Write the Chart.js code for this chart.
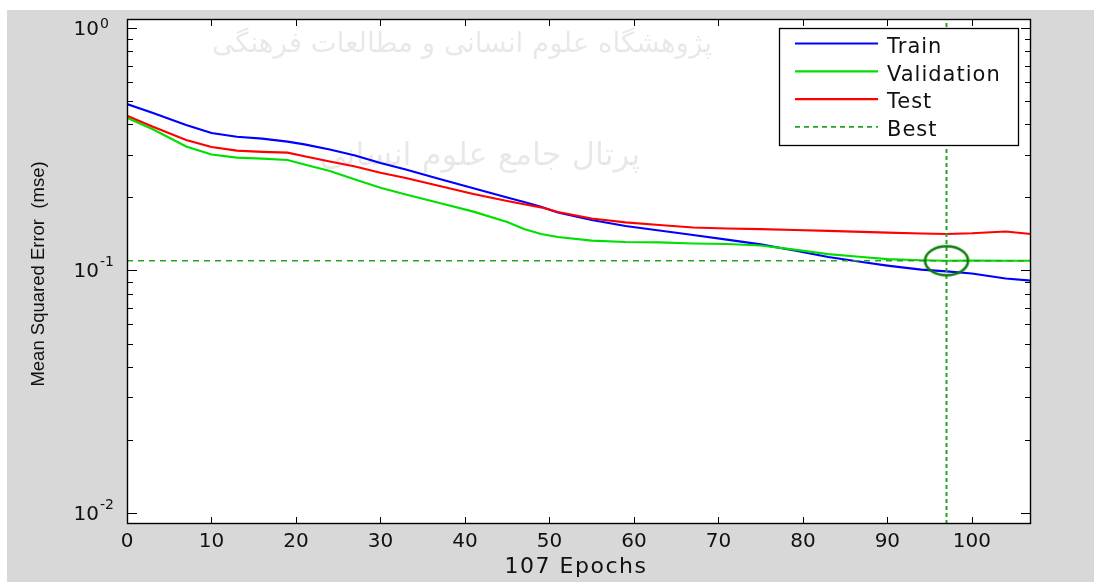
<!DOCTYPE html>
<html>
<head>
<meta charset="utf-8">
<script src="https://cdn.jsdelivr.net/npm/chart.js@4.4.0/dist/chart.umd.min.js"></script>
<style>
  html, body { margin: 0; padding: 0; background: #fff; overflow: hidden; }
</style>
</head>
<body>
<canvas id="perf" width="1094" height="582"></canvas>
<script>
// Training record (mse per epoch)
const epochs = [0, 3, 7, 10, 13, 16, 19, 21, 24, 27, 30, 33, 37, 41, 45, 47, 49, 51, 55, 59, 63, 67, 71, 75, 79, 83, 87, 90, 94, 97, 100, 104, 107];
const trainMse = [0.486, 0.447, 0.398, 0.369, 0.356, 0.350, 0.340, 0.331, 0.3155, 0.298, 0.2775, 0.261, 0.2384, 0.2183, 0.200, 0.1916, 0.1833, 0.1734, 0.1615, 0.1526, 0.1462, 0.1401, 0.1341, 0.1282, 0.1209, 0.1137, 0.1084, 0.1048, 0.1009, 0.0991, 0.0972, 0.0927, 0.0908];
const validationMse = [0.4266, 0.3833, 0.3246, 0.3008, 0.2918, 0.2891, 0.2855, 0.2735, 0.2572, 0.2373, 0.2195, 0.2057, 0.1898, 0.1748, 0.1585, 0.1483, 0.1414, 0.1374, 0.1327, 0.1311, 0.1307, 0.1292, 0.1286, 0.1268, 0.1220, 0.1169, 0.1137, 0.1115, 0.1102, 0.1097, 0.1098, 0.1097, 0.1097];
const testMse = [0.435, 0.3925, 0.345, 0.323, 0.312, 0.3087, 0.306, 0.296, 0.2815, 0.2685, 0.253, 0.2406, 0.2231, 0.2067, 0.1935, 0.1875, 0.1822, 0.1743, 0.1638, 0.1580, 0.154, 0.1504, 0.149, 0.148, 0.1469, 0.1458, 0.1444, 0.1433, 0.1421, 0.1414, 0.1424, 0.1448, 0.1414];

const bestEpoch = 97;
const bestPerf = 0.1097;

const xMin = 0, xMax = 107;
const yMin = 0.00901, yMax = 1.089;
const xTicks = [0, 10, 20, 30, 40, 50, 60, 70, 80, 90, 100];
const yMajorTicks = [0.01, 0.1, 1];
const yTickExponents = ['-2', '-1', '0'];
const legendLabels = ['Train', 'Validation', 'Test', 'Best'];
const xTitle = '107 Epochs';
const yTitle = 'Mean Squared Error  (mse)';
const watermark = ['پژوهشگاه علوم انسانی و مطالعات فرهنگی', 'پرتال جامع علوم انسانی'];

const colors = { train: '#0000ff', validation: '#00e000', test: '#ff0000', best: '#26a326', ring: '#0a7d0a' };
const legendColors = [colors.train, colors.validation, colors.test, colors.best];

const pts = vals => epochs.map((e, i) => ({ x: e, y: vals[i] }));

// ellipse marker for the best epoch
const ring = document.createElement('canvas');
ring.width = 48; ring.height = 34;
const rc = ring.getContext('2d');
rc.strokeStyle = colors.ring;
rc.lineWidth = 2.6;
rc.beginPath();
rc.ellipse(24, 17, 21.5, 14.5, 0, 0, Math.PI * 2);
rc.stroke();

const FONT = '"DejaVu Sans", sans-serif';

function seg(ctx, x1, y1, x2, y2) {
    ctx.beginPath();
    ctx.moveTo(x1, y1);
    ctx.lineTo(x2, y2);
    ctx.stroke();
}

const matlabLook = {
    id: 'matlabLook',
    beforeDraw(chart) {
        const { ctx, chartArea: a, width, height } = chart;
        ctx.save();
        ctx.fillStyle = '#fff';
        ctx.fillRect(0, 0, width, height);
        ctx.fillStyle = '#d8d8d8';
        ctx.fillRect(7, 10, width - 7, height - 10);
        ctx.fillStyle = '#fff';
        ctx.fillRect(a.left, a.top, a.right - a.left, a.bottom - a.top);

        // faint watermark
        ctx.fillStyle = 'rgba(0,0,0,0.09)';
        ctx.textAlign = 'center';
        ctx.textBaseline = 'alphabetic';
        ctx.direction = 'rtl';
        const marks = [[watermark[0], 500, 462, 52], [watermark[1], 320, 480, 165]];
        marks.forEach(([t, w, cx, by]) => {
            ctx.font = '40px ' + FONT;
            const size = 40 * w / ctx.measureText(t).width;
            ctx.font = size.toFixed(1) + 'px ' + FONT;
            ctx.fillText(t, cx, by);
        });
        ctx.restore();
    },
    afterDatasetsDraw(chart) {
        const { ctx, chartArea: a } = chart;
        const xs = chart.scales.x, ys = chart.scales.y;
        ctx.save();
        ctx.strokeStyle = '#000';
        ctx.lineWidth = 1;

        // x ticks, bottom and top, pointing inwards
        xTicks.forEach(v => {
            const px = Math.round(xs.getPixelForValue(v)) + 0.5;
            seg(ctx, px, a.bottom, px, a.bottom - 7);
            seg(ctx, px, a.top, px, a.top + 7);
        });
        // y ticks: majors at decades, minors at 2..9
        for (let e = -3; e <= 0; e++) {
            for (let k = 1; k <= 9; k++) {
                const v = k * Math.pow(10, e);
                if (v < yMin || v > yMax) continue;
                const py = Math.round(ys.getPixelForValue(v)) + 0.5;
                const len = k === 1 ? 10 : 6;
                seg(ctx, a.left, py, a.left + len, py);
                seg(ctx, a.right, py, a.right - len, py);
            }
        }
        // box
        ctx.lineWidth = 1.4;
        ctx.strokeRect(a.left + 0.5, a.top + 0.5, a.right - a.left - 1, a.bottom - a.top - 1);

        // tick labels
        ctx.fillStyle = '#111';
        ctx.font = '20px ' + FONT;
        ctx.textAlign = 'center';
        ctx.textBaseline = 'alphabetic';
        xTicks.forEach(v => ctx.fillText(String(v), xs.getPixelForValue(v), 547));

        yMajorTicks.forEach((v, i) => {
            const py = ys.getPixelForValue(v);
            ctx.font = '20px ' + FONT;
            ctx.textAlign = 'right';
            ctx.fillText('10', 99, py + 7);
            ctx.font = '14px ' + FONT;
            ctx.textAlign = 'left';
            ctx.fillText(yTickExponents[i], 100, Math.max(py - 4.5, 28));
        });

        // axis titles
        ctx.font = '22px ' + FONT;
        ctx.letterSpacing = '1.5px';
        ctx.textAlign = 'center';
        ctx.fillText(xTitle, 576, 573);
        ctx.letterSpacing = '0px';

        ctx.save();
        ctx.translate(44, 274);
        ctx.rotate(-Math.PI / 2);
        ctx.font = '18.5px "Liberation Sans", Arial, sans-serif';
        ctx.fillText(yTitle, 0, 0);
        ctx.restore();
        ctx.restore();
    },
    afterDraw(chart) {
        const { ctx } = chart;
        ctx.save();
        ctx.fillStyle = '#fff';
        ctx.fillRect(779.5, 28.5, 239, 117);
        ctx.strokeStyle = '#000';
        ctx.lineWidth = 1.3;
        ctx.strokeRect(779.5, 28.5, 239, 117);

        ctx.font = '21px ' + FONT;
        ctx.letterSpacing = '1px';
        ctx.textAlign = 'left';
        ctx.textBaseline = 'alphabetic';
        legendLabels.forEach((lab, i) => {
            const ry = 43.5 + i * 27.8;
            ctx.strokeStyle = legendColors[i];
            ctx.lineWidth = lab === 'Best' ? 1.6 : 2.2;
            ctx.setLineDash(lab === 'Best' ? [5, 4] : []);
            seg(ctx, 795, ry, 878, ry);
            ctx.setLineDash([]);
            ctx.fillStyle = '#111';
            ctx.fillText(lab, 887, ry + 9.3);
        });
        ctx.restore();
    }
};

const lineBase = { pointRadius: 0, tension: 0, fill: false, borderWidth: 2.2 };

new Chart(document.getElementById('perf'), {
    type: 'line',
    data: {
        datasets: [
            { ...lineBase, label: 'Train', data: pts(trainMse), borderColor: colors.train, order: 6 },
            { ...lineBase, label: 'Validation', data: pts(validationMse), borderColor: colors.validation, order: 5 },
            { ...lineBase, label: 'Test', data: pts(testMse), borderColor: colors.test, order: 4 },
            { ...lineBase, label: 'Best', data: [{ x: xMin, y: bestPerf }, { x: xMax, y: bestPerf }],
              borderColor: colors.best, borderWidth: 1.4, borderDash: [6, 5], order: 3 },
            { ...lineBase, label: 'Best epoch', data: [{ x: bestEpoch, y: yMin }, { x: bestEpoch, y: yMax }],
              borderColor: colors.best, borderWidth: 2, borderDash: [4, 3], order: 2 },
            { label: 'Best point', data: [{ x: bestEpoch, y: bestPerf }], showLine: false,
              pointStyle: ring, pointRadius: 5, order: 1 }
        ]
    },
    options: {
        responsive: false,
        devicePixelRatio: 1,
        animation: false,
        layout: { padding: { left: 127, right: 63, top: 19, bottom: 58 } },
        scales: {
            x: { type: 'linear', min: xMin, max: xMax, display: false },
            y: { type: 'logarithmic', min: yMin, max: yMax, display: false }
        },
        plugins: {
            legend: { display: false },
            tooltip: { enabled: false }
        }
    },
    plugins: [matlabLook]
});
</script>
</body>
</html>
